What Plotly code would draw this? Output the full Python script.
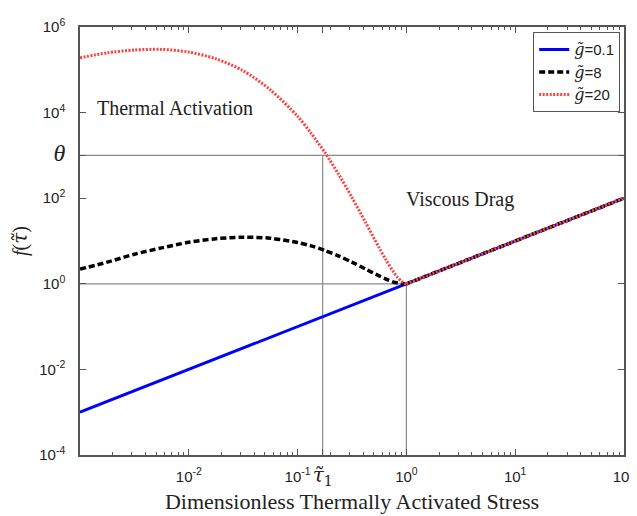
import plotly.graph_objects as go

# ---------------- data ----------------
TAU_LOW = [0.001, 0.00178, 0.00316, 0.00562, 0.01, 0.0178, 0.0316, 0.0562, 0.1,
           0.133, 0.178, 0.237, 0.316, 0.422, 0.562, 0.65, 0.75, 0.83, 0.9, 0.96, 1.0]
F_G8_LOW = [2.2, 3.2, 4.9, 6.9, 9.3, 11.3, 12.3, 11.6, 9.2,
            7.7, 6.0, 4.5, 3.2, 2.2, 1.53, 1.29, 1.11, 1.04, 1.01, 1.0, 1.0]
F_G20_LOW = [1.9e5, 2.5e5, 2.9e5, 3.0e5, 2.6e5, 1.8e5, 9.5e4, 3.4e4, 8.2e3,
             3.3e3, 1.17e3, 370, 104, 27, 6.9, 3.6, 2.0, 1.41, 1.14, 1.02, 1.0]
TAU_BLUE = [0.001, 0.01, 0.1, 1.0, 10.0, 100.0]
F_G01 = [0.001, 0.01, 0.1, 1.0, 10.0, 100.0]
TAU_HIGH = [1.0, 10.0, 100.0]
F_HIGH = [1.0, 10.0, 100.0]

THETA = 1e3
TAU1 = 0.17

SERIES_NAMES = ["0.1", "8", "20"]

TAU_SYM = '<span style="font-family:DejaVu Serif"><i>τ\u0303</i></span>'
X_TICKVALS = [0.01, 0.1, TAU1, 1, 10, 100]
X_TICKTEXT = ["10<sup>-2</sup>", "10<sup>-1</sup>",
              '<span style="font-family:DejaVu Serif;font-size:20px"><i>τ\u0303</i><sub>1</sub></span>',
              "10<sup>0</sup>", "10<sup>1</sup>", "10<sup>2</sup>"]
Y_TICKVALS = [1e-4, 1e-2, 1, 1e2, THETA, 1e4, 1e6]
Y_TICKTEXT = ["10<sup>-4</sup>", "10<sup>-2</sup>", "10<sup>0</sup>", "10<sup>2</sup>",
              '<span style="font-family:Liberation Serif;font-size:24px"><i>θ</i></span>',
              "10<sup>4</sup>", "10<sup>6</sup>"]
X_MINOR = [m * 10.0 ** e for e in range(-3, 2) for m in range(2, 10)]

GRAY = "#8a8a8a"
AXC = "#555555"

fig = go.Figure()

# reference lines
for xs, ys in (([0.001, 100], [THETA, THETA]), ([0.001, 1], [1, 1]),
               ([TAU1, TAU1], [1e-4, THETA]), ([1, 1], [1e-4, 1])):
    fig.add_trace(go.Scatter(x=xs, y=ys, mode="lines", line=dict(color=GRAY, width=1.2),
                             showlegend=False, hoverinfo="skip"))


def gname(v):
    return ('<span style="font-family:DejaVu Serif;font-size:16px"><i>g\u0303</i></span>=' + v)


# g = 0.1 (blue solid)
fig.add_trace(go.Scatter(x=TAU_BLUE, y=F_G01, mode="lines", name=gname(SERIES_NAMES[0]),
                         legendgroup="a", line=dict(color="#0000ff", width=3)))
# g = 8 (black dashed)
fig.add_trace(go.Scatter(x=TAU_LOW, y=F_G8_LOW, mode="lines", name=gname(SERIES_NAMES[1]),
                         legendgroup="b", line=dict(color="black", width=3.5, dash="6px,3px",
                                                    shape="spline", smoothing=0.8)))
fig.add_trace(go.Scatter(x=TAU_HIGH, y=F_HIGH, mode="lines", showlegend=False,
                         legendgroup="b", line=dict(color="black", width=3.5, dash="6px,3px")))
# g = 20 (red dotted)
fig.add_trace(go.Scatter(x=TAU_LOW, y=F_G20_LOW, mode="lines", name=gname(SERIES_NAMES[2]),
                         legendgroup="c", line=dict(color="#ff4040", width=3, dash="2px,1.5px",
                                                    shape="spline", smoothing=0.8)))
fig.add_trace(go.Scatter(x=TAU_HIGH, y=F_HIGH, mode="lines", showlegend=False,
                         legendgroup="c", line=dict(color="#ff4040", width=3, dash="2px,1.5px")))

# the page has an 8px body margin, so the figure is sized/margined to compensate
fig.update_layout(
    width=629, height=508,
    margin=dict(l=72, r=13, t=19, b=61, autoexpand=False),
    paper_bgcolor="white", plot_bgcolor="white",
    font=dict(family="Liberation Sans, Arial", size=15, color="#222222"),
    legend=dict(x=0.993, y=0.988, xanchor="right", yanchor="top",
                bordercolor=AXC, borderwidth=1, bgcolor="white",
                font=dict(family="Liberation Sans, Arial", size=15),
                tracegroupgap=0, itemwidth=30, entrywidth=72),
    annotations=[
        dict(text="Thermal Activation", xref="paper", yref="paper", x=0.175, y=0.811,
             xanchor="center", yanchor="middle",
             showarrow=False, font=dict(family="Liberation Serif", size=20, color="#222")),
        dict(text="Viscous Drag", xref="paper", yref="paper", x=0.699, y=0.596,
             xanchor="center", yanchor="middle",
             showarrow=False, font=dict(family="Liberation Serif", size=20, color="#222")),
    ],
)

fig.update_xaxes(
    type="log", range=[-3, 2], automargin=False, tickangle=0,
    tickmode="array", tickvals=X_TICKVALS, ticktext=X_TICKTEXT,
    ticks="inside", ticklen=6, tickcolor=AXC, tickwidth=1, ticklabelstandoff=7,
    minor=dict(tickmode="array", tickvals=X_MINOR, ticks="inside", ticklen=3,
               tickcolor=AXC, showgrid=False),
    showline=True, linecolor=AXC, linewidth=1.5, mirror="allticks",
    showgrid=False, zeroline=False,
    title=dict(text="Dimensionless Thermally Activated Stress", standoff=5,
               font=dict(family="Liberation Serif", size=22, color="#222")),
)
fig.update_yaxes(
    type="log", range=[-4, 6], automargin=False,
    tickmode="array", tickvals=Y_TICKVALS, ticktext=Y_TICKTEXT,
    ticks="inside", ticklen=6, tickcolor=AXC, tickwidth=1, ticklabelstandoff=10,
    showline=True, linecolor=AXC, linewidth=1.5, mirror="allticks",
    showgrid=False, zeroline=False,
    title=dict(text="<i>f</i>(" + TAU_SYM + ")", standoff=8,
               font=dict(family="Liberation Serif", size=20, color="#222")),
)

fig.write_html("out.html")
